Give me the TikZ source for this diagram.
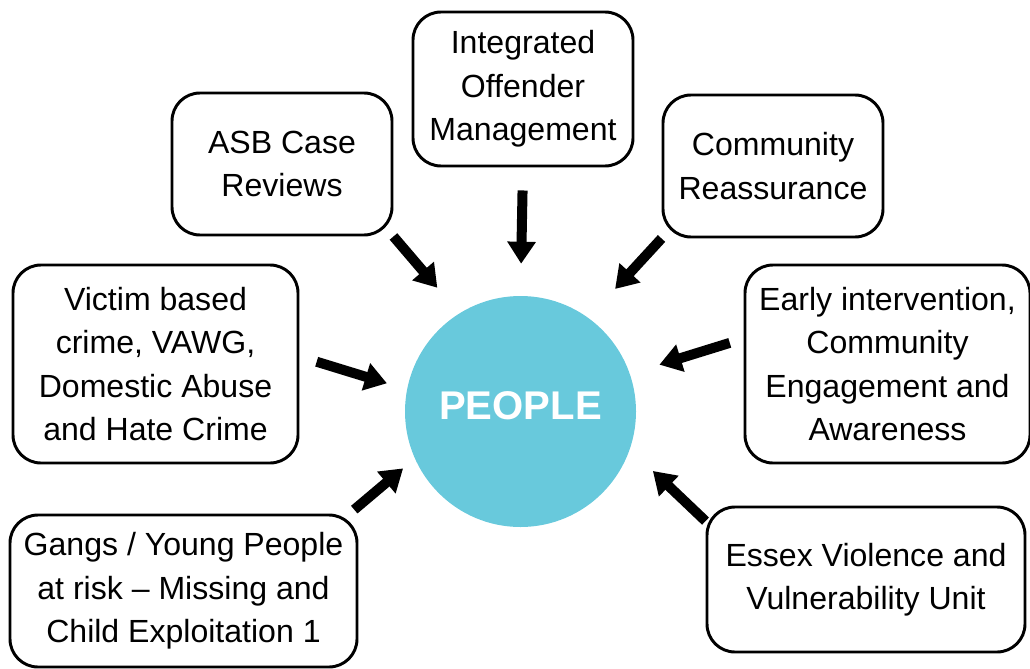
\documentclass[tikz,border=0pt]{standalone}
\usepackage{fontspec}
\setmainfont{Liberation Sans}
\usepackage{xcolor}
\definecolor{peopleblue}{RGB}{104,201,220}
\usepackage{tikz}
\usetikzlibrary{arrows.meta}
\newcommand{\widthsmall}{5.5cm}
\newcommand{\widthwide}{7.125cm}
\newcommand{\boxtext}{\fontsize{22.8pt}{30.8pt}\selectfont}
\tikzset{
    common/.style={draw, rectangle, rounded corners=0.7cm, line width=2.1pt, align=center, inner sep=2pt, font=\boxtext},
    smallbox/.style={common, minimum width=\widthsmall, minimum height=3.55cm},
    widebox/.style={common, minimum width=\widthwide, minimum height=4.95cm},
    people/.style={circle, fill=peopleblue, minimum size=5.775cm, text=white, text depth=0.3cm, font=\fontsize{28.5pt}{34pt}\selectfont\bfseries},
    feeds/.style={line width=0.25cm, -{Triangle[length=0.55cm, width=0.68cm]}}
}
\begin{document}
\begin{tikzpicture}
  \useasboundingbox (0,0) rectangle (25.75,16.7);

  \path
    (13.0125,6.4125) node[people] (people) {PEOPLE}
    (13.075,14.475) node[smallbox, minimum height=3.85cm] (iom) {Integrated\\Offender\\Management}
    (7.05,12.6) node[smallbox] (asb) {ASB Case\\Reviews}
    (19.325,12.55) node[smallbox] (reassurance) {Community\\Reassurance}
    (3.8875,7.6) node[widebox] (victim) {Victim based\\crime, VAWG,\\Domestic Abuse\\and Hate Crime}
    (22.1875,7.6) node[widebox] (early) {Early intervention,\\Community\\Engagement and\\Awareness}
    (4.5875,1.925) node[common, minimum width=8.675cm, minimum height=3.8cm] (gangs) {Gangs / Young People\\at risk -- Missing and\\Child Exploitation 1}
    (21.65,2.2125) node[common, minimum width=7.95cm, minimum height=3.625cm] (essex) {Essex Violence and\\Vulnerability Unit};

  \draw[feeds, shorten <=0.575cm, shorten >=0.8cm] (iom.south) -- (people.north);
  \draw[feeds, shorten >=0.84cm] (asb.south east) -- (people.122);
  \draw[feeds, shorten >=0.98cm] (reassurance.south west) -- (people.54);
  \draw[feeds, shorten <=0.45cm, shorten >=0.52cm] (victim.3) -- (people.169.5);
  \draw[feeds, shorten <=0.36cm, shorten >=0.77cm] (early.170.5) -- (people.19.7);
  \draw[feeds, shorten <=0.15cm, shorten >=0.38cm] (gangs.25) -- (people.204.6);
  \draw[feeds, shorten >=0.79cm] (essex.160) -- (people.341.8);
\end{tikzpicture}
\end{document}
